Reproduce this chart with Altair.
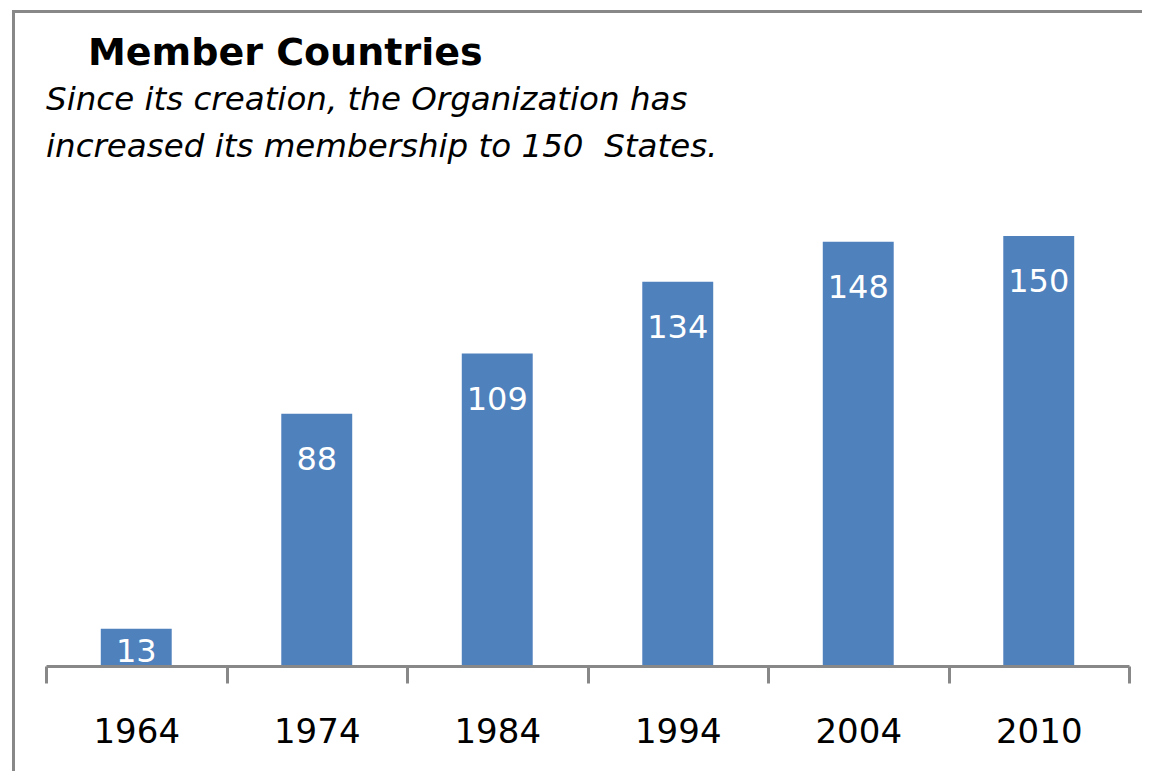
import altair as alt
import pandas as pd

# ---- data ----
years = ["1964", "1974", "1984", "1994", "2004", "2010"]
members = [13, 88, 109, 134, 148, 150]
title_text = "Member Countries"
subtitle_lines = [
    "Since its creation, the Organization has",
    "increased its membership to 150\u00a0 States.",
]

df = pd.DataFrame({"year": years, "members": members})

W, H = 1083, 430
BAR = "#4F81BD"
GRAY = "#888888"
FONT = "DejaVu Sans"

x_enc = alt.X(
    "year:N",
    sort=years,
    scale=alt.Scale(paddingInner=0, paddingOuter=0),
    axis=alt.Axis(
        title=None,
        labelAngle=0,
        tickBand="extent",
        domainColor=GRAY,
        domainWidth=3,
        tickColor=GRAY,
        tickWidth=3,
        tickSize=17,
        labelFont=FONT,
        labelFontSize=34,
        labelColor="#000000",
        labelPadding=59,
        labelBaseline="alphabetic",
        grid=False,
        zindex=2,
    ),
)
y_enc = alt.Y("members:Q", scale=alt.Scale(domain=[0, 150], nice=False), axis=None)

one = alt.Data(values=[{}])

frame_left = alt.Chart(one).mark_rule(color=GRAY, strokeWidth=3).encode(
    x=alt.value(-32.5), y=alt.value(-226), y2=alt.value(700)
)
frame_top = alt.Chart(one).mark_rule(color=GRAY, strokeWidth=3).encode(
    x=alt.value(-34), x2=alt.value(1300), y=alt.value(-224.5)
)

bars = alt.Chart(df).mark_bar(color=BAR, width=alt.RelativeBandSize(0.393)).encode(
    x=x_enc, y=y_enc
)

labels_big = (
    alt.Chart(df)
    .transform_filter("datum.members >= 20")
    .mark_text(color="white", font=FONT, fontSize=32, align="center",
               baseline="alphabetic", dy=56)
    .encode(x=x_enc, y=y_enc, text="members:Q")
)
labels_small = (
    alt.Chart(df)
    .transform_filter("datum.members < 20")
    .mark_text(color="white", font=FONT, fontSize=32, align="center",
               baseline="alphabetic", dy=33)
    .encode(x=x_enc, y=y_enc, text="members:Q")
)

title = alt.Chart(one).mark_text(
    text=title_text, font=FONT, fontSize=38, fontWeight="bold", color="#000000",
    align="left", baseline="alphabetic"
).encode(x=alt.value(42), y=alt.value(-171))

sub1 = alt.Chart(one).mark_text(
    text=subtitle_lines[0], font=FONT, fontSize=32.5, fontStyle="italic", color="#000000",
    align="left", baseline="alphabetic"
).encode(x=alt.value(0), y=alt.value(-126))

sub2 = alt.Chart(one).mark_text(
    text=subtitle_lines[1], font=FONT, fontSize=32.5, fontStyle="italic", color="#000000",
    align="left", baseline="alphabetic"
).encode(x=alt.value(0), y=alt.value(-79))

chart = (
    alt.layer(frame_left, frame_top, bars, labels_big, labels_small, title, sub1, sub2)
    .properties(
        width=W,
        height=H,
        padding={"left": 38, "top": 228, "right": 13, "bottom": 105},
        autosize=alt.AutoSizeParams(type="none"),
        background="white",
    )
    .configure_view(stroke=None)
)

chart.save("out.html", embed_options={"renderer": "svg", "actions": False})
